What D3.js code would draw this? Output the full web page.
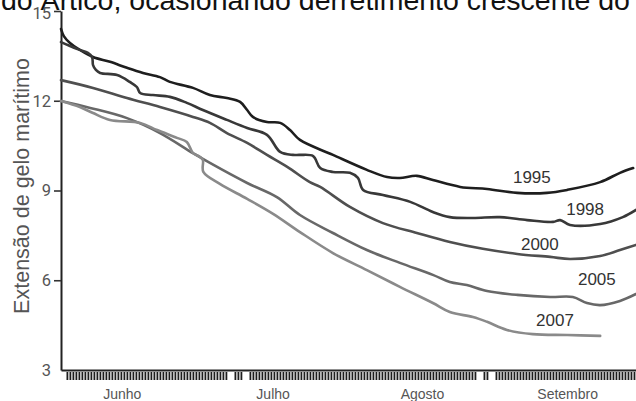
<!DOCTYPE html>
<html><head><meta charset="utf-8">
<script src="https://cdn.jsdelivr.net/npm/d3@7"></script>
<style>html,body{margin:0;padding:0;background:#fff;overflow:hidden}svg{display:block}</style>
</head><body>
<svg id="c" width="636" height="401"></svg>
<script>
// ---- data ----
const titleText = "do Ártico, ocasionando derretimento crescente do";
const yTitle = "Extensão de gelo marítimo";
const yTicks = [3, 6, 9, 12, 15];
const months = ["Junho", "Julho", "Agosto", "Setembro"];
const monthDays = [13, 45, 76.7, 107.5];
const seriesNames = ["1995", "1998", "2000", "2005", "2007"];

const days1995 = [0,0.6,1.9,4.0,6.8,10.4,14.0,17.4,21.0,23.1,28.0,31.6,35.2,38.0,39.5,40.7,43.7,46.5,48.6,50.7,57.7,64.9,69.2,71.9,75.5,78.9,84.7,90.4,96.8,103.1,107.4,114.4,118.6,121.4];
const ext1995  = [14.40,14.16,13.93,13.70,13.46,13.30,13.10,12.93,12.79,12.63,12.43,12.19,12.09,11.96,11.69,11.46,11.29,11.26,11.02,10.69,10.19,9.69,9.45,9.42,9.49,9.35,9.12,9.05,8.92,8.92,9.02,9.28,9.59,9.75];

const days1998 = [0,1.9,4.0,5.7,6.6,6.8,7.4,8.3,11.9,14.6,16.1,16.8,19.5,23.1,26.7,30.1,35.2,39.5,43.7,46.5,49.2,50.7,53.5,55.0,57.7,61.3,63.0,64.1,68.3,74.1,78.9,82.5,87.4,93.1,98.9,104.4,105.9,108.0,114.4,119.2,122];
const ext1998  = [13.96,13.83,13.70,13.60,13.46,13.19,13.03,12.93,12.86,12.63,12.46,12.26,12.19,12.13,11.93,11.69,11.36,11.09,10.86,10.29,10.19,10.19,10.15,9.75,9.62,9.59,9.42,9.02,8.85,8.62,8.28,8.11,8.08,8.11,8.01,7.95,8.01,7.85,7.88,8.11,8.35];

const days2000 = [0,6.8,14.0,21.0,28.0,31.6,35.2,39.5,43.7,48.0,52.8,55.0,61.3,68.3,75.5,82.5,89.5,96.8,103.8,108.0,114.4,118.6,122];
const ext2000  = [12.69,12.43,12.09,11.79,11.46,11.26,10.92,10.59,10.19,9.79,9.28,9.12,8.45,7.91,7.58,7.28,7.05,6.88,6.78,6.71,6.81,7.01,7.18];

const days2005 = [0,6.2,14.0,21.0,28.0,31.6,39.5,45.8,50.7,57.7,64.9,71.9,78.9,82.5,86.1,90.4,96.8,103.8,108.6,111.6,114.4,118.6,122];
const ext2005  = [11.99,11.76,11.42,10.92,10.25,9.92,9.25,8.78,8.18,7.58,7.01,6.58,6.18,5.94,5.84,5.64,5.51,5.44,5.44,5.24,5.17,5.31,5.54];

const days2007 = [0,4.0,6.8,10.4,16.8,20.4,24.6,26.7,28.0,29.5,30.1,30.2,33.7,39.5,45.0,50.7,57.7,64.9,71.9,78.9,82.5,87.4,90.4,94.6,100.1,107.4,114.4];
const ext2007  = [11.99,11.79,11.59,11.36,11.26,11.02,10.76,10.62,10.25,10.12,10.02,9.62,9.22,8.72,8.22,7.61,6.91,6.34,5.78,5.24,4.94,4.77,4.61,4.34,4.20,4.17,4.14];

const seriesDays = [days1995, days1998, days2000, days2005, days2007];
const seriesExt  = [ext1995, ext1998, ext2000, ext2005, ext2007];
const seriesColors = ["#1e1e1e", "#383838", "#4f4f4f", "#686868", "#8a8a8a"];
const labelDays = [99.9, 111.2, 101.6, 113.7, 104.8];
const labelVals = [9.45, 8.35, 7.21, 6.01, 4.64];

// ---- chart ----
const svg = d3.select("#c");
const x = d3.scaleLinear().domain([0, 122]).range([61, 636]);
const y = d3.scaleLinear().domain([3, 15]).range([370, 11]);

// title (cut at top)
svg.append("text").attr("x", 1).attr("y", 10)
  .attr("font-family", "Liberation Sans, Arial, sans-serif").attr("font-size", 28.5)
  .attr("fill", "#111").text(titleText);

// x axis with dense ticks
const gaps = [[35.1, 36.6], [38.3, 39.6], [88.2, 89.5], [90.9, 92.0]];
const tickVals = d3.range(1.25, 122, 0.6366).filter(d => !gaps.some(g => d > g[0] && d < g[1]));
const xa = svg.append("g").attr("transform", "translate(0,370)")
  .call(d3.axisBottom(x).tickValues(tickVals).tickSize(10).tickSizeOuter(0).tickFormat(""));
xa.select(".domain").attr("stroke", "#222").attr("stroke-width", 2);
xa.selectAll(".tick line").attr("stroke", "#1e1e1e").attr("stroke-width", 1.8).attr("y1", 2);

svg.append("g").selectAll("text").data(months).join("text")
  .attr("x", (d, i) => x(monthDays[i])).attr("y", 399)
  .attr("text-anchor", "middle")
  .attr("font-family", "Liberation Sans, Arial, sans-serif").attr("font-size", 14)
  .attr("fill", "#555").text(d => d);

// y axis
const ya = svg.append("g").attr("transform", "translate(61,0)")
  .call(d3.axisLeft(y).tickValues(yTicks).tickSize(7).tickSizeOuter(0).tickPadding(3));
ya.select(".domain").attr("stroke", "#222").attr("stroke-width", 2);
ya.selectAll(".tick line").attr("stroke", "#333").attr("stroke-width", 1.6);
ya.selectAll(".tick").filter(d => d === 3).select("line").remove();
ya.selectAll(".tick text").attr("font-family", "Roboto, Liberation Sans, sans-serif")
  .attr("font-size", 16.5).attr("fill", "#555")
  .attr("dy", d => d === 15 ? "0.45em" : "0.32em");

svg.append("text")
  .attr("transform", "translate(29,186) rotate(-90)")
  .attr("text-anchor", "middle")
  .attr("font-family", "Liberation Sans, Arial, sans-serif").attr("font-size", 21.5)
  .attr("fill", "#555").text(yTitle);

// lines
const line = d3.line().x(d => x(d[0])).y(d => y(d[1])).curve(d3.curveCatmullRom.alpha(0.5));
seriesNames.forEach((name, i) => {
  const pts = seriesDays[i].map((d, j) => [d, seriesExt[i][j]]);
  svg.append("path").datum(pts).attr("d", line)
    .attr("fill", "none").attr("stroke", seriesColors[i])
    .attr("stroke-width", 2.6).attr("stroke-linejoin", "round").attr("stroke-linecap", "round");
  svg.append("text").attr("x", x(labelDays[i])).attr("y", y(labelVals[i]))
    .attr("text-anchor", "middle").attr("dominant-baseline", "central")
    .attr("font-family", "Liberation Sans, Arial, sans-serif").attr("font-size", 17)
    .attr("fill", "#333").text(name);
});
</script>
</body></html>
